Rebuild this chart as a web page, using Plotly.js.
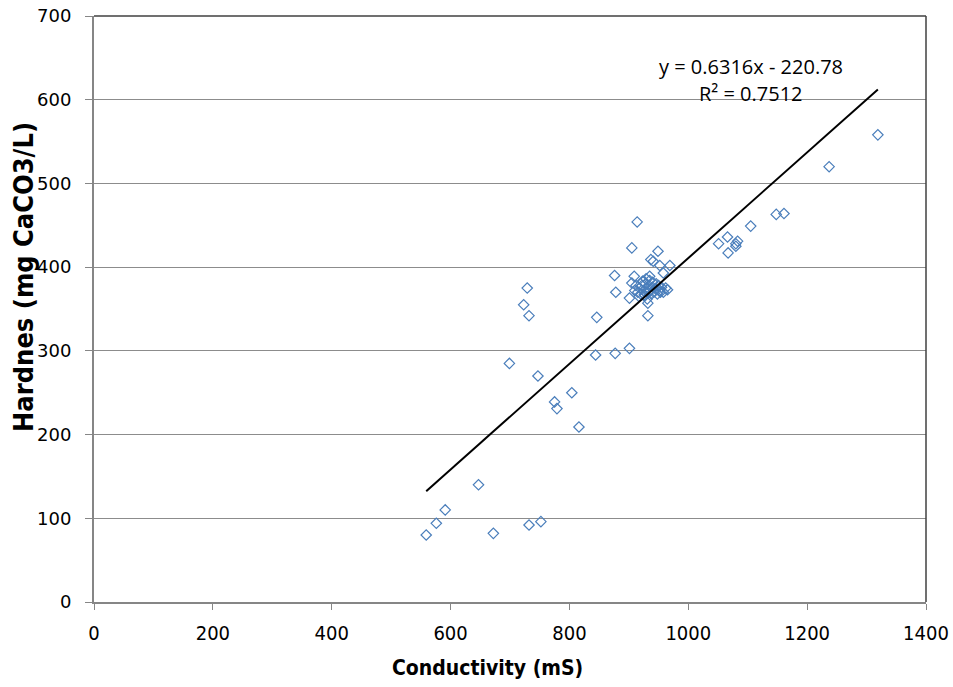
<!DOCTYPE html>
<html>
<head>
<meta charset="utf-8">
<script src="https://cdn.plot.ly/plotly-3.0.1.min.js"></script>
<style>html,body{margin:0;padding:0;background:#fff;}#chart{width:953px;height:687px;}</style>
</head>
<body>
<div id="chart"></div>
<script>
// Conductivity (mS)
const conductivity = [
  559, 576, 591, 647, 672, 732, 752,
  729, 723, 732, 699, 747, 775, 779, 804, 816, 844, 846, 877, 901,
  932, 932, 905, 949, 937, 941, 952, 969, 958, 876, 909, 935, 905, 924, 878, 965, 901, 914,
  910, 915, 918, 920, 922, 925, 927, 928, 930, 932, 934, 936, 938, 940, 942, 945, 948, 950,
  952, 955, 958, 912, 917, 923, 929, 935, 940, 946, 953, 962, 931, 926,
  1051, 1066, 1067, 1080, 1080, 1083, 1105, 1148, 1161, 1237, 1319
];
// Hardness (mg CaCO3/L)
const hardness = [
  80, 94, 110, 140, 82, 92, 96,
  375, 355, 342, 285, 270, 239, 231, 250, 209, 295, 340, 297, 303,
  357, 342, 423, 419, 409, 407, 402, 402, 393, 390, 389, 389, 381, 383, 370, 373, 363, 454,
  372, 370, 375, 368, 378, 372, 366, 380, 374, 370, 378, 372, 368, 376, 370, 374, 368, 378,
  372, 376, 370, 378, 365, 383, 386, 384, 382, 380, 370, 375, 362, 367,
  428, 436, 417, 425, 428, 431, 449, 463, 464, 520, 558
];
// Linear trend: y = 0.6316x - 220.78
const slope = 0.6316, intercept = -220.78;
const trendX = [559, 1319];
const trendY = trendX.map(x => slope * x + intercept);
const xTitle = 'Conductivity (mS)';
const yTitle = 'Hardnes (mg CaCO3/L)';
const eqText = 'y = 0.6316x - 220.78';
const r2Text = 'R² = 0.7512';

const narrow = '"Liberation Sans Narrow", "DejaVu Sans Condensed", "Liberation Sans", sans-serif';
const tickFontX = {family: narrow, size: 20, color: '#000'};
const tickFontY = {family: '"DejaVu Sans", sans-serif', size: 18, color: '#000'};

const data = [
  {x: conductivity, y: hardness, type: 'scatter', mode: 'markers',
   marker: {symbol: 'diamond-open', size: 8, color: '#4a7ebb', line: {width: 1.2, color: '#4a7ebb'}},
   hoverinfo: 'x+y', showlegend: false},
  {x: trendX, y: trendY, type: 'scatter', mode: 'lines',
   line: {color: '#000', width: 2}, showlegend: false, hoverinfo: 'skip'}
];

const pw = 953 - 94 - 27, ph = 687 - 16 - 85;
const layout = {
  width: 953, height: 687,
  margin: {l: 94, r: 27, t: 16, b: 85},
  paper_bgcolor: '#fff', plot_bgcolor: '#fff',
  showlegend: false,
  xaxis: {
    range: [0, 1400], dtick: 200, tick0: 0,
    showgrid: false, zeroline: false,
    showline: true, linecolor: '#868686', linewidth: 2,
    ticks: 'outside', ticklen: 6, tickcolor: '#868686', tickwidth: 1,
    ticklabelstandoff: 6,
    tickfont: tickFontX
  },
  yaxis: {
    range: [0, 700], dtick: 100, tick0: 0,
    showgrid: true, gridcolor: '#8c8c8c', gridwidth: 1,
    zeroline: false,
    showline: true, linecolor: '#868686', linewidth: 2,
    ticks: 'outside', ticklen: 7, tickcolor: '#868686', tickwidth: 1,
    ticklabelstandoff: 10,
    tickfont: tickFontY
  },
  shapes: [
    {type: 'line', xref: 'paper', yref: 'paper', x0: 0, x1: 1, y0: 1, y1: 1, line: {color: '#404040', width: 1.5}},
    {type: 'line', xref: 'paper', yref: 'paper', x0: 1, x1: 1, y0: 0, y1: 1, line: {color: '#404040', width: 1.5}}
  ],
  annotations: [
    {x: 1105, y: 640, xref: 'x', yref: 'y', text: eqText, showarrow: false,
     xanchor: 'center', yanchor: 'middle',
     font: {family: '"Open Sans", sans-serif', size: 20, color: '#000'}},
    {x: 1105, y: 608, xref: 'x', yref: 'y', text: r2Text, showarrow: false,
     xanchor: 'center', yanchor: 'middle',
     font: {family: '"Open Sans", sans-serif', size: 20, color: '#000'}},
    {x: (487 - 94) / pw, y: (602 - 668) / ph, xref: 'paper', yref: 'paper', text: '<b>' + xTitle + '</b>',
     showarrow: false, xanchor: 'center', yanchor: 'middle',
     font: {family: narrow, size: 21, color: '#000'}},
    {x: (23 - 94) / pw, y: (602 - 277) / ph, xref: 'paper', yref: 'paper', text: '<b>' + yTitle + '</b>',
     showarrow: false, textangle: -90, xanchor: 'center', yanchor: 'middle',
     font: {family: narrow, size: 27, color: '#000'}}
  ]
};

Plotly.newPlot('chart', data, layout, {displayModeBar: false, staticPlot: true});
</script>
</body>
</html>
